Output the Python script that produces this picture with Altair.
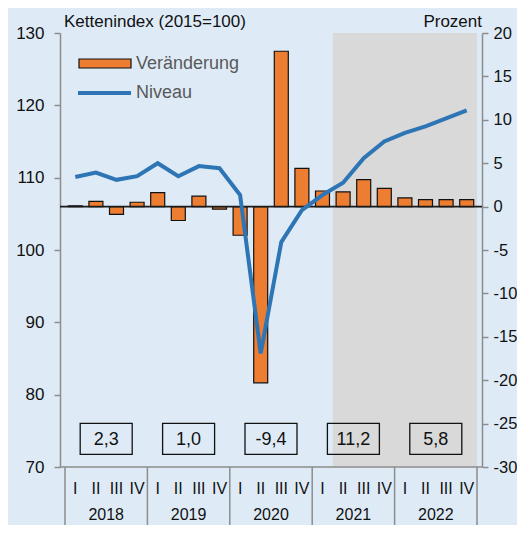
import altair as alt
import pandas as pd

# ---- data ----
quarters = ["I", "II", "III", "IV"] * 5
years = ["2018", "2019", "2020", "2021", "2022"]
change = [0.1, 0.6, -0.9, 0.5, 1.6, -1.6, 1.2, -0.3, -3.3, -20.3,
          17.9, 4.4, 1.8, 1.7, 3.1, 2.1, 1.0, 0.8, 0.8, 0.8]
level = [110.1, 110.7, 109.7, 110.2, 112.0, 110.2, 111.6, 111.3, 107.6, 85.7,
         101.1, 105.5, 107.6, 109.3, 112.7, 115.0, 116.2, 117.1, 118.2, 119.3]
annual = ["2,3", "1,0", "-9,4", "11,2", "5,8"]
forecast_start = 13   # first shaded quarter (2021 Q2)
left_ticks = [70, 80, 90, 100, 110, 120, 130]
right_ticks = [-30, -25, -20, -15, -10, -5, 0, 5, 10, 15, 20]

n = len(change)
df = pd.DataFrame({"idx": [i + 0.5 for i in range(n)], "q": quarters,
                   "change": change, "level": level})
ydf = pd.DataFrame({"yc": [4 * i + 2 for i in range(len(years))],
                    "year": years, "annual": annual})
sep = pd.DataFrame({"x": [4 * i for i in range(len(years) + 1)]})
shade = pd.DataFrame({"x": [forecast_start], "x2": [n]})
one = pd.DataFrame({"a": [0]})

W, H = 422, 434
ORANGE = "#ED7D31"
BLUE = "#2E75B6"
GRAY = "#8C8C8C"
FONT = "Liberation Sans"
NARROW = "Liberation Sans Narrow, Arial Narrow, Liberation Sans, sans-serif"

xs = alt.Scale(domain=[0, n], nice=False, zero=False)

shade_l = alt.Chart(shade).mark_rect(color="#D9D9D9").encode(
    x=alt.X("x:Q", scale=xs, axis=None), x2="x2:Q",
    y=alt.value(0), y2=alt.value(H))

bars = alt.Chart(df).mark_bar(size=14, color=ORANGE, stroke="#111111",
                              strokeWidth=1.2).encode(
    x=alt.X("idx:Q", scale=xs, axis=None),
    y=alt.Y("change:Q", scale=alt.Scale(domain=[-30, 20], nice=False),
            axis=alt.Axis(orient="right", values=right_ticks, title=None,
                          grid=False, labelPadding=5, labelFontSize=16.5,
                          labelExpr="replace(datum.label, '\u2212', '-')")))

zero = alt.Chart(one).mark_rule(color="#1a1a1a", strokeWidth=1.8).encode(
    y=alt.Y("a:Q", scale=alt.Scale(domain=[-30, 20], nice=False), axis=None))

line = alt.Chart(df).mark_line(color=BLUE, strokeWidth=4).encode(
    x=alt.X("idx:Q", scale=xs, axis=None),
    y=alt.Y("level:Q", scale=alt.Scale(domain=[70, 130], nice=False, zero=False),
            axis=alt.Axis(orient="left", values=left_ticks, title=None,
                          grid=False)))

base_rule = alt.Chart(one).mark_rule(color=GRAY, strokeWidth=1.5).encode(
    x=alt.value(0), x2=alt.value(W), y=alt.value(H))

seps = alt.Chart(sep).mark_rule(color=GRAY, strokeWidth=1.5).encode(
    x=alt.X("x:Q", scale=xs, axis=None), y=alt.value(H), y2=alt.value(H + 70))

qlab = alt.Chart(df).mark_text(font=NARROW, fontSize=16, color="#111111",
                               baseline="middle").encode(
    x=alt.X("idx:Q", scale=xs, axis=None), y=alt.value(H + 22), text="q:N")

ylab = alt.Chart(ydf).mark_text(font=NARROW, fontSize=16, color="#111111",
                                baseline="middle").encode(
    x=alt.X("yc:Q", scale=xs, axis=None), y=alt.value(H + 48), text="year:N")

boxes = alt.Chart(ydf).mark_point(
    shape="M-1,-0.596L1,-0.596L1,0.596L-1,0.596Z", size=52 * 52,
    filled=False, stroke="#111111", strokeWidth=1.3, opacity=1).encode(
    x=alt.X("yc:Q", scale=xs, axis=None), y=alt.value(405.8))

box_txt = alt.Chart(ydf).mark_text(font=FONT, fontSize=18, color="#111111",
                                   baseline="middle").encode(
    x=alt.X("yc:Q", scale=xs, axis=None), y=alt.value(406.5), text="annual:N")

leg_rect = alt.Chart(one).mark_rect(color=ORANGE, stroke="#111111",
                                    strokeWidth=1.2).encode(
    x=alt.value(19), x2=alt.value(71), y=alt.value(26), y2=alt.value(35))
leg_line = alt.Chart(one).mark_rule(color=BLUE, strokeWidth=4).encode(
    x=alt.value(18), x2=alt.value(71), y=alt.value(60))
leg_t1 = alt.Chart(one).mark_text(text="Veränderung", font=FONT, fontSize=18,
                                  color="#595959", align="left",
                                  baseline="middle").encode(
    x=alt.value(76), y=alt.value(31))
leg_t2 = alt.Chart(one).mark_text(text="Niveau", font=FONT, fontSize=18,
                                  color="#595959", align="left",
                                  baseline="middle").encode(
    x=alt.value(76), y=alt.value(60))

t_left = alt.Chart(one).mark_text(text="Kettenindex (2015=100)", font=FONT,
                                  fontSize=17, color="#111111", align="left",
                                  baseline="alphabetic").encode(
    x=alt.value(4), y=alt.value(-6))
t_right = alt.Chart(one).mark_text(text="Prozent", font=FONT, fontSize=17,
                                   color="#111111", align="right",
                                   baseline="alphabetic").encode(
    x=alt.value(422), y=alt.value(-6))

chart = alt.layer(
    shade_l, bars, zero, line, base_rule, seps, qlab, ylab, boxes, box_txt,
    leg_rect, leg_line, leg_t1, leg_t2, t_left, t_right
).resolve_scale(y="independent").properties(
    width=W, height=H,
    autosize=alt.AutoSizeParams(type="none"),
    padding={"left": 52, "top": 25, "right": 35, "bottom": 58},
    background="#DEEBF7",
).configure_view(stroke=None).configure_axis(
    domainColor=GRAY, domainWidth=1.5, tickColor=GRAY, tickWidth=1.5,
    tickSize=6, labelFont=FONT, labelFontSize=17, labelColor="#111111",
    labelPadding=10,
)

chart.save("out.html", embed_options={"renderer": "svg", "actions": False})
